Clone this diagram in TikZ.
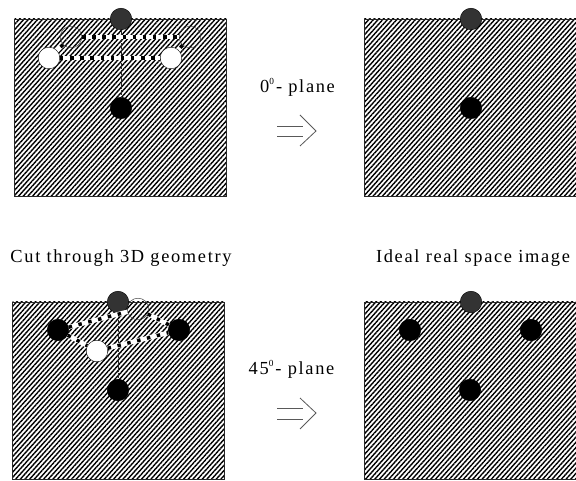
\documentclass[tikz,border=0pt]{standalone}
\usepackage{fontspec}
\setmainfont[LetterSpace=9]{Liberation Serif}
\usepackage{tikz}
\usetikzlibrary{patterns.meta}
\tikzset{
  panel/.style={draw=black!85,line width=0.7pt,minimum width=159pt,minimum height=132.75pt,inner sep=0pt,pattern={Lines[angle=48,distance=2.6pt,line width=1.05pt]}},
  atom/.style={circle,draw=black,line width=0.3pt,minimum size=16.2pt,inner sep=0pt},
  blackatom/.style={atom,fill=black},
  greyatom/.style={atom,fill=black!80},
  whiteatom/.style={atom,fill=white},
  openatom/.style={atom,draw=black!80,line width=0.35pt},
  bondback/.style={draw=white,line width=3.4pt},
  bonddots/.style={draw=black,line width=2.6pt,dash pattern=on 2.6pt off 5pt},
  axisline/.style={draw=black!85,line width=0.6pt,dash pattern=on 4pt off 1pt},
  caption/.style={font=\fontsize{13.8}{16}\selectfont,anchor=base,inner sep=0pt},
  implyline/.style={draw=black!65,line width=0.6pt}
}
\begin{document}
\begin{tikzpicture}[x=0.75pt,y=-0.75pt]
\useasboundingbox (0,0) rectangle (576,481);
% panels
\node[panel] (P1) at (120.5,107.5) {};
\node[panel] (P2) at (470,107.5) {};
\node[panel] (P3) at (118.5,390.5) {};
\node[panel] (P4) at (470,390.5) {};
% 0 degree cut
\node[greyatom] (A1) at (121,19) {};
\node[blackatom] (A2) at (121,108) {};
\node[whiteatom] (A3) at (49,58) {};
\node[whiteatom] (A4) at (171,58) {};
\node[openatom] (A5) at (71,37) {};
\node[openatom] (A6) at (190,37) {};
\draw[axisline] (A1) -- (A2);
\foreach \from/\to in {A5/A6,A3/A4,A5/A3,A6/A4}{
  \draw[bondback] (\from) -- (\to);
  \draw[bonddots] (\from) -- (\to);}
% 0 degree image
\node[greyatom] (B1) at (471,19) {};
\node[blackatom] (B2) at (471,108) {};
% 45 degree cut
\node[openatom] (C5) at (138,309) {};
\node[greyatom] (C1) at (118,302) {};
\node[blackatom] (C2) at (118,390) {};
\node[blackatom] (C3) at (58,330) {};
\node[blackatom] (C4) at (179,330) {};
\node[whiteatom] (C6) at (97,351) {};
\draw[axisline] (C1) -- (C2);
\foreach \from/\to in {C3/C5,C5/C4,C3/C6,C6/C4}{
  \draw[bondback] (\from) -- (\to);
  \draw[bonddots] (\from) -- (\to);}
% 45 degree image
\node[greyatom] (D1) at (471,302) {};
\node[blackatom] (D2) at (470,390) {};
\node[blackatom] (D3) at (410,330) {};
\node[blackatom] (D4) at (531,330) {};
% texts
\node[caption] (T1) at (297.5,93) {0\raisebox{1.5pt}{\textsuperscript{\scriptsize 0}}\kern1pt- plane};
\node[caption] (T2) at (291.5,375) {45\raisebox{1.5pt}{\textsuperscript{\scriptsize 0}}\kern1pt- plane};
\node[caption] (T3) at (121,263) {Cut through 3D geometry};
\node[caption] (T4) at (473,263) {Ideal real space image};
% implication arrows
\coordinate (E1) at (277,126);
\coordinate (E2) at (303,126);
\coordinate (E3) at (277,136);
\coordinate (E4) at (303,136);
\coordinate (E5) at (300,115);
\coordinate (E6) at (316,131);
\coordinate (E7) at (300,146);
\draw[implyline] (E1) -- (E2);
\draw[implyline] (E3) -- (E4);
\draw[implyline] (E5) -- (E6) -- (E7);
\coordinate (F1) at (277,408);
\coordinate (F2) at (303,408);
\coordinate (F3) at (277,419);
\coordinate (F4) at (303,419);
\coordinate (F5) at (300,398);
\coordinate (F6) at (316,413);
\coordinate (F7) at (300,429);
\draw[implyline] (F1) -- (F2);
\draw[implyline] (F3) -- (F4);
\draw[implyline] (F5) -- (F6) -- (F7);
\end{tikzpicture}
\end{document}
